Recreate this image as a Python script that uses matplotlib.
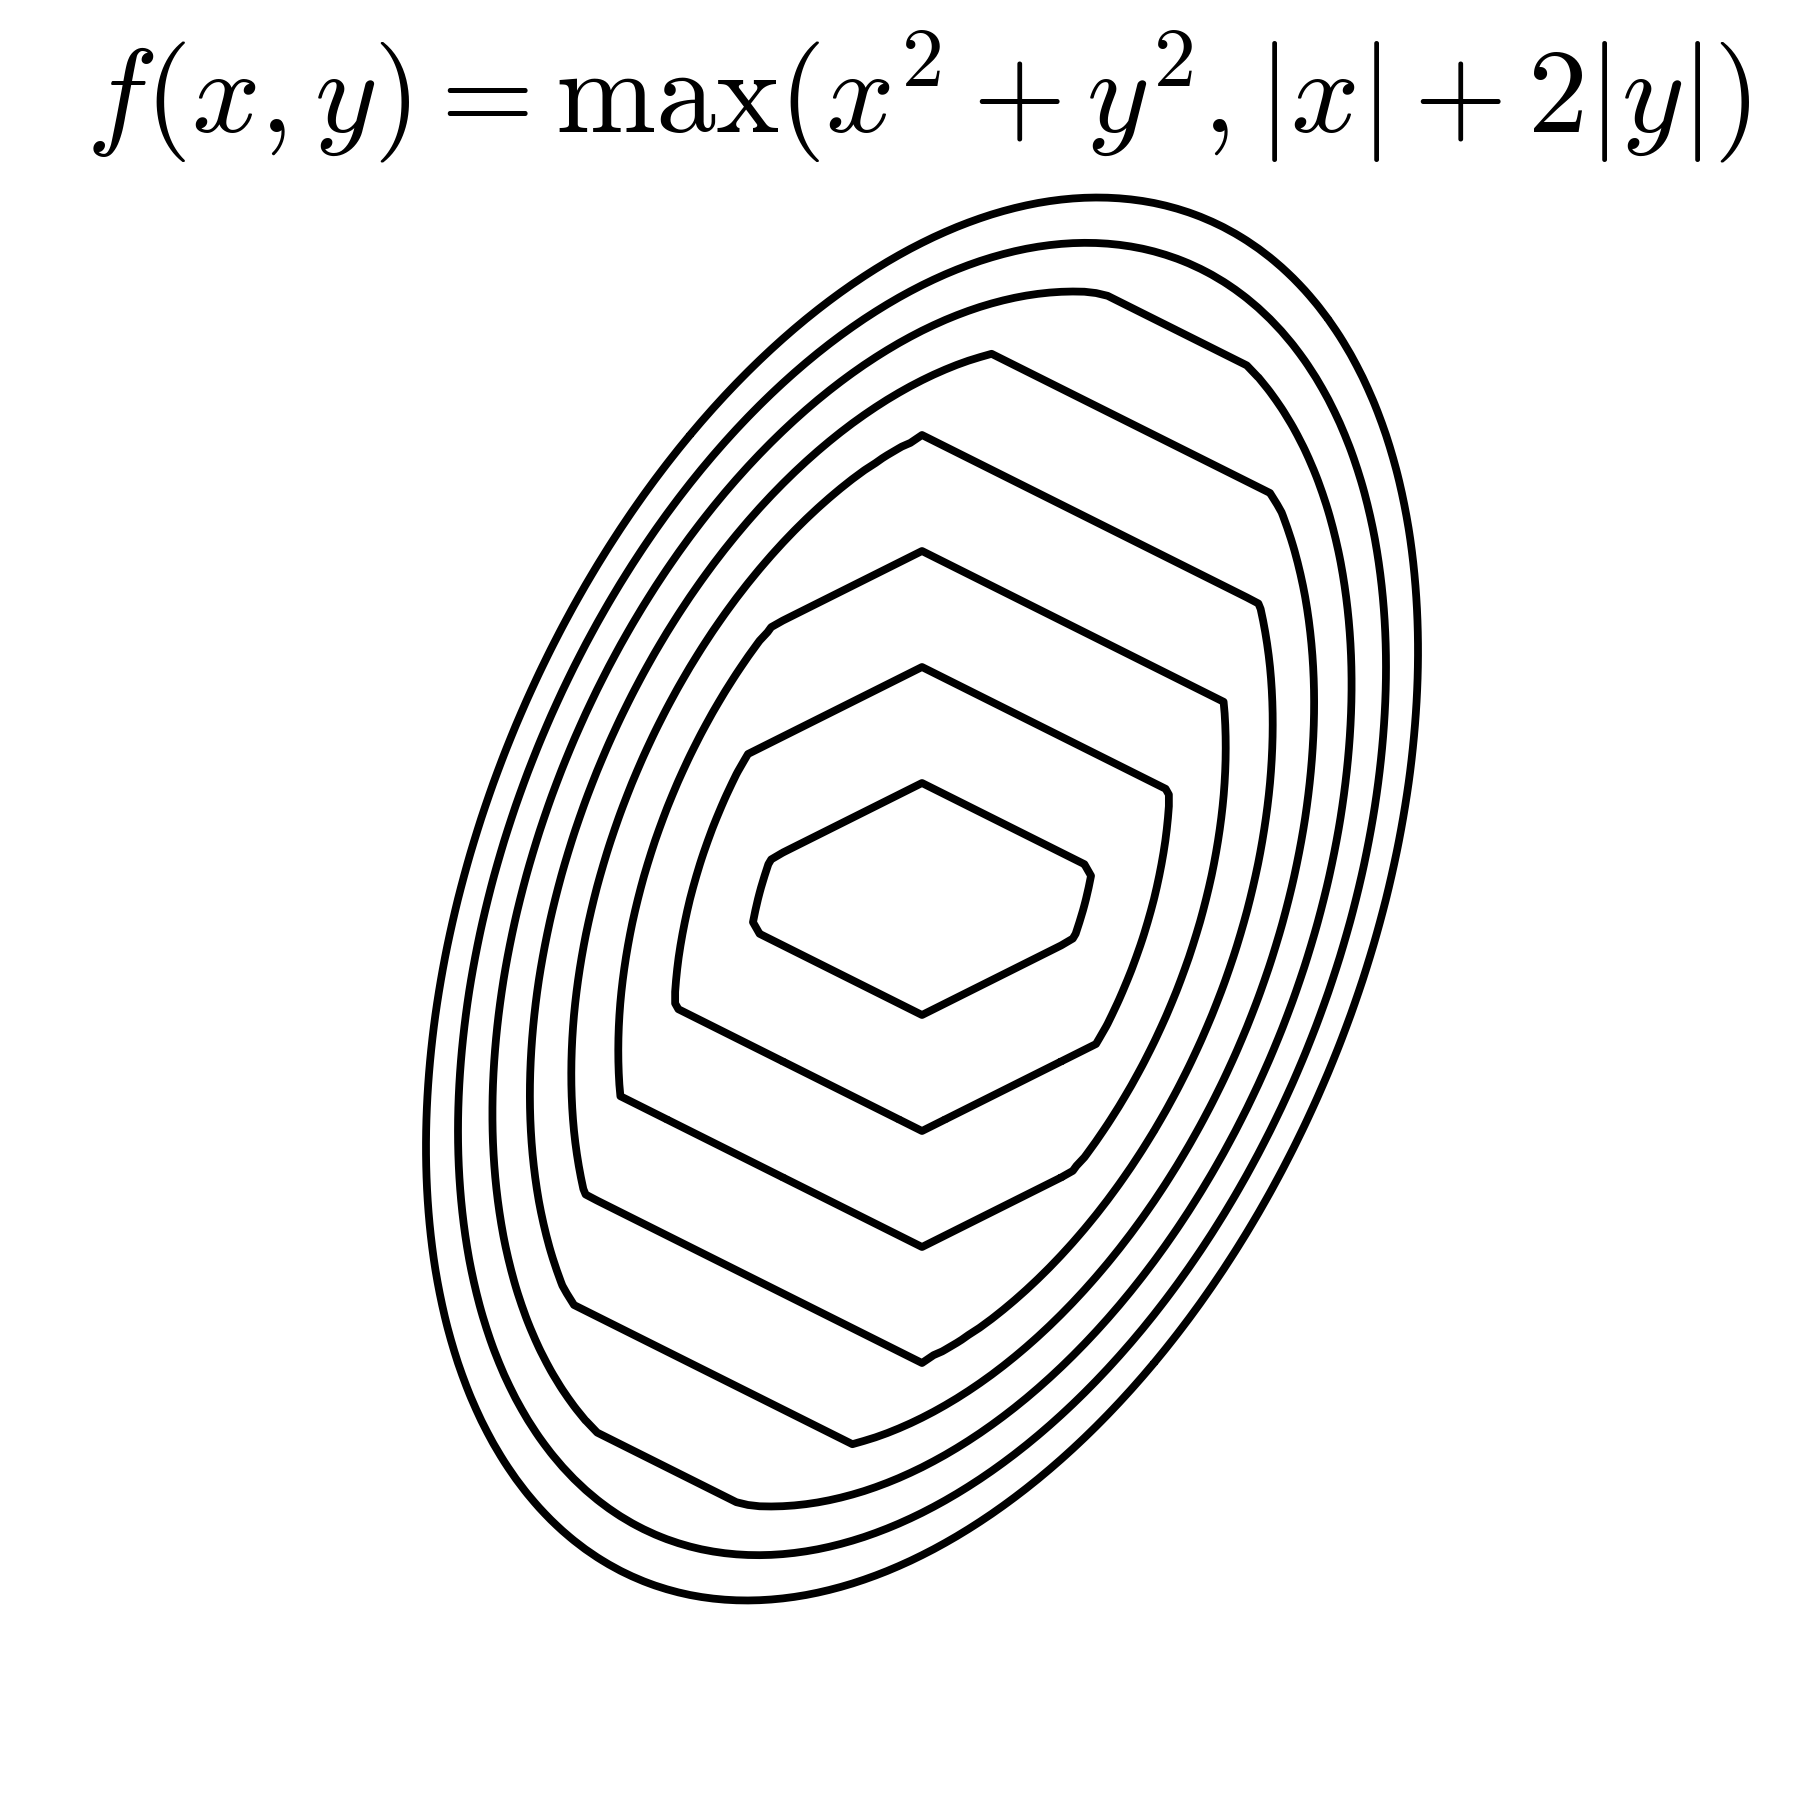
import numpy as np
import matplotlib.pyplot as plt

plt.rcParams['mathtext.fontset'] = 'cm'

# 等高線のレベル
levels = [1, 2, 3, 4, 5, 6, 7, 8]

# 二次形式の係数 (a*x^2 + b*x*y + c*y^2) と 絶対値項の係数
quad_coef = [2.0, -1.0, 1.0]
abs_coef = [1.0, 2.0]

title = r'$f(x, y) = \max(x^2 + y^2, |x| + 2|y|)$'

# グリッド
x = np.linspace(-3.6, 3.6, 145)
y = np.linspace(-3.6, 3.6, 145)
X, Y = np.meshgrid(x, y)
Q = quad_coef[0] * X**2 + quad_coef[1] * X * Y + quad_coef[2] * Y**2
A = abs_coef[0] * np.abs(X) + abs_coef[1] * np.abs(Y)
Z = np.maximum(Q, A)

fig = plt.figure(figsize=(18, 18), dpi=100)
ax = fig.add_axes([0, 0, 1, 1])
cs = ax.contour(X, Y, Z, levels=levels, colors='black', linewidths=5.6)
cs.set_joinstyle('round')

# 中心のピクセル位置 (922, 899)、スケール px/unit
scale = 232.0
ax.set_xlim(-922 / scale, (1800 - 922) / scale)
ax.set_ylim(-(1800 - 899) / scale, 899 / scale)
ax.axis('off')

fig.text(0.51, 1 - 133 / 1800, title, ha='center', va='baseline', fontsize=86.5)

fig.savefig('out.png', dpi=100)
